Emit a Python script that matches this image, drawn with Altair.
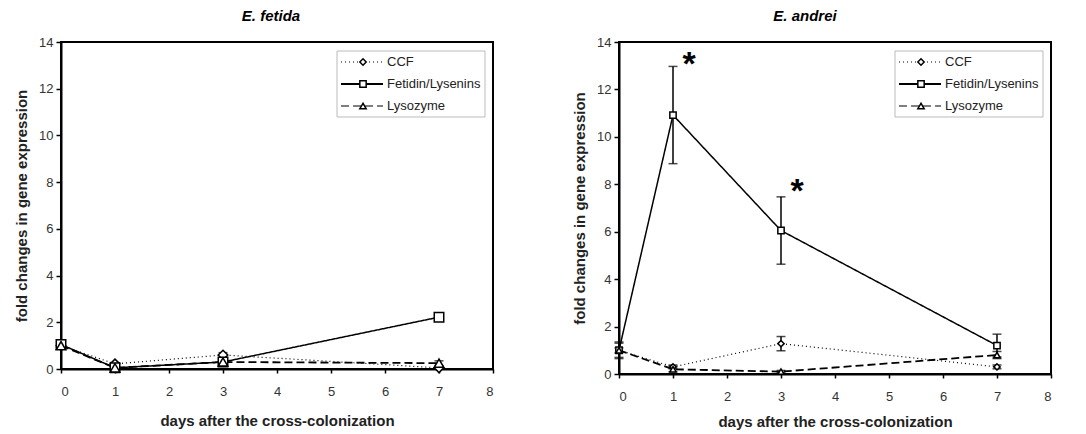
import altair as alt
import pandas as pd

days = [0, 1, 3, 7]
series_names = ["CCF", "Fetidin/Lysenins", "Lysozyme"]

# E. fetida
fet_ccf = [1.0, 0.22, 0.6, 0.05]
fet_ccf_err = [0.1, 0.05, 0.1, 0.05]
fet_fet = [1.05, 0.05, 0.3, 2.22]
fet_fet_err = [0.12, 0.05, 0.1, 0.08]
fet_lys = [1.0, 0.05, 0.3, 0.25]
fet_lys_err = [0.1, 0.05, 0.1, 0.1]

# E. andrei
and_ccf = [1.0, 0.3, 1.28, 0.3]
and_ccf_err = [0.3, 0.08, 0.3, 0.08]
and_fet = [1.0, 10.92, 6.05, 1.2]
and_fet_err = [0.35, 2.05, 1.42, 0.48]
and_lys = [1.0, 0.2, 0.1, 0.8]
and_lys_err = [0.1, 0.1, 0.05, 0.15]

star_days = [1, 3]
star_vals = [13.25, 7.9]

FONT = "Liberation Sans"


def make_df(vals_list, errs_list):
    rows = []
    for name, vals, errs in zip(series_names, vals_list, errs_list):
        for d, v, e in zip(days, vals, errs):
            rows.append({"series": name, "day": d, "value": v, "lo": max(v - e, 0), "hi": v + e})
    return pd.DataFrame(rows)


dash_scale = alt.Scale(domain=series_names, range=[[1, 3], [1, 0], [8, 4]])
shape_scale = alt.Scale(domain=series_names, range=["diamond", "square", "triangle-up"])
width_scale = alt.Scale(domain=series_names, range=[1.2, 1.8, 1.0])


def panel(df, title, title_dx, marker_size, height, label_pad, title_pad, stars=None):
    x = alt.X("day:Q", scale=alt.Scale(domain=[0, 8], nice=False, padding=0),
              axis=alt.Axis(values=list(range(9)), title="days after the cross-colonization",
                            tickSize=4, labelPadding=label_pad, titlePadding=title_pad, grid=False))
    y = alt.Y("value:Q", scale=alt.Scale(domain=[0, 14], nice=False, padding=0),
              axis=alt.Axis(values=list(range(0, 15, 2)), title="fold changes in gene expression",
                            tickSize=5, labelPadding=3, titlePadding=9, grid=False))
    base = alt.Chart(df)
    lines = base.mark_line(color="black").encode(
        x=x, y=y, detail="series:N",
        strokeDash=alt.StrokeDash("series:N", scale=dash_scale, legend=None),
        strokeWidth=alt.StrokeWidth("series:N", scale=width_scale, legend=None),
    )
    rules = base.mark_rule(color="black", strokeWidth=1.5).encode(
        x="day:Q", y="lo:Q", y2="hi:Q")
    cap_lo = base.mark_tick(color="black", thickness=1.5, size=9, orient="horizontal").encode(
        x="day:Q", y="lo:Q")
    cap_hi = base.mark_tick(color="black", thickness=1.5, size=9, orient="horizontal").encode(
        x="day:Q", y="hi:Q")
    pts = base.mark_point(color="black", fill="white", filled=False, opacity=1,
                          fillOpacity=1, strokeWidth=1.5).encode(
        x="day:Q", y="value:Q",
        shape=alt.Shape("series:N", scale=shape_scale, legend=None),
        size=alt.value(marker_size),
    )
    layers = [lines, rules, cap_lo, cap_hi, pts]
    if stars is not None:
        sdf = pd.DataFrame({"day": stars[0], "value": stars[1]})
        layers.append(alt.Chart(sdf).mark_text(text="*", fontSize=34, font=FONT,
                                               fontWeight="bold", dx=16, dy=5, color="black").encode(
            x="day:Q", y="value:Q"))
    # legend box
    lx0, lx1, ly0, ly1 = 276, 424, 9, 75
    rows_y = [20, 42, 64]
    dashes = [[1, 3], [1, 0], [8, 4]]
    shapes = ["diamond", "square", "triangle-up"]
    one = pd.DataFrame({"a": [0]})
    layers.append(alt.Chart(one).mark_rect(fill="white", stroke="#bbbbbb", strokeWidth=1).encode(
        x=alt.value(lx0), x2=alt.value(lx1), y=alt.value(ly0), y2=alt.value(ly1)))
    for name, yy, dsh, shp in zip(series_names, rows_y, dashes, shapes):
        layers.append(alt.Chart(one).mark_rule(color="black", strokeDash=dsh,
                                               strokeWidth=1.8 if shp == "square" else 1.1).encode(
            x=alt.value(lx0 + 4), x2=alt.value(lx0 + 46), y=alt.value(yy)))
        layers.append(alt.Chart(one).mark_point(color="black", fill="white", filled=False,
                                                fillOpacity=1, opacity=1, strokeWidth=1.5,
                                                shape=shp, size=40).encode(
            x=alt.value(lx0 + 26), y=alt.value(yy)))
        layers.append(alt.Chart(one).mark_text(text=name, align="left", baseline="middle",
                                               font=FONT, fontSize=13, color="#222222").encode(
            x=alt.value(lx0 + 50), y=alt.value(yy)))
    return alt.layer(*layers).properties(
        width=432, height=height,
        title=alt.TitleParams(title, fontStyle="italic", fontWeight="bold", fontSize=15,
                              font=FONT, dx=title_dx, offset=12, anchor="middle"),
    )


left = panel(make_df([fet_ccf, fet_fet, fet_lys], [fet_ccf_err, fet_fet_err, fet_lys_err]),
             "E. fetida", -6, 90, 327, 12, 15)
right = panel(make_df([and_ccf, and_fet, and_lys], [and_ccf_err, and_fet_err, and_lys_err]),
              "E. andrei", -30, 40, 332, 12, 11, stars=(star_days, star_vals))

chart = alt.hconcat(left, right, spacing=76).properties(
    padding={"left": 5, "top": 0, "right": 5, "bottom": 0},
    background="white",
).configure_view(stroke="black", strokeWidth=2).configure_axis(
    domainColor="black", domainWidth=2, tickColor="black", tickWidth=1.5,
    labelFont=FONT, labelFontSize=13, labelColor="#333333",
    titleFont=FONT, titleFontSize=15, titleFontWeight="bold", titleColor="#222222",
)

chart.save("out.html", embed_options={"renderer": "svg", "actions": False})
